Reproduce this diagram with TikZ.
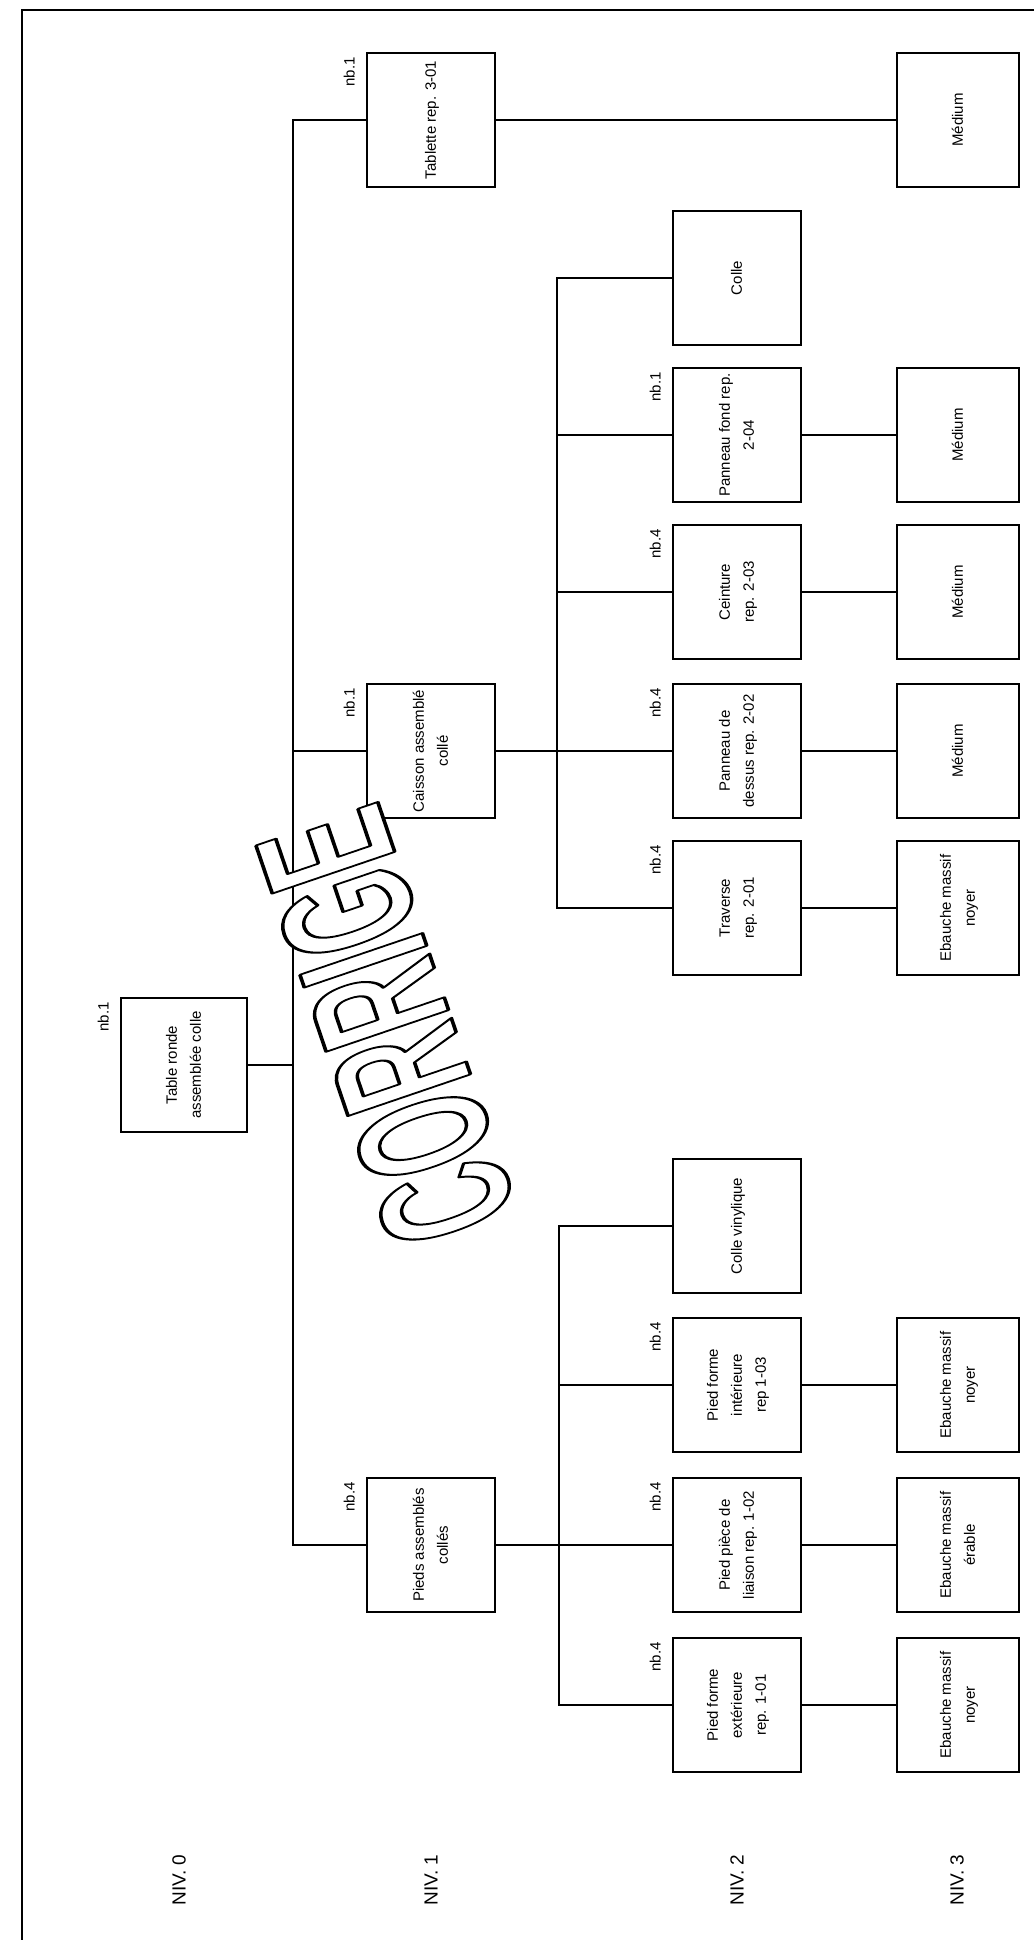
\documentclass[tikz,border=0pt]{standalone}
\usepackage{fontspec}
\setmainfont{Liberation Sans}
\usetikzlibrary{calc}
\newcommand\rtxt[1]{\rotatebox{90}{\begin{tabular}{@{}c@{}}#1\end{tabular}}}
\newcommand\outlinetext[1]{{\color{white}\special{pdf:literal direct 2 Tr 3.6 w 0 G 1 j}#1\special{pdf:literal direct 0 Tr 1 w 0 j}}}
\begin{document}
\begin{tikzpicture}[x=1pt,y=-1pt,
  box/.style={draw, line width=2pt, minimum width=128pt, minimum height=134pt, inner sep=0pt, font=\fontsize{15}{24}\selectfont},
  boxs/.style={box, minimum width=122pt},
  conn/.style={line width=1.3pt},
  nb/.style={rotate=90, anchor=south east, inner sep=0pt, font=\fontsize{15}{18}\selectfont},
  niv/.style={rotate=90, inner sep=0pt, font=\fontsize{19}{22}\selectfont},
  wm/.style={rotate=108.8, inner sep=0pt, font=\fontsize{188}{188}\selectfont\bfseries}]
\useasboundingbox (0,0) rectangle (1034,1940);
\fill[white] (0,0) rectangle (1034,1940);
% frame
\draw[line width=2.2pt] (1034,10) -- (22,10) -- (22,1940);
% level 0
\node[box, minimum width=126pt] (T0) at (184,1065) {\rtxt{Table ronde\\assemblée colle}};
% level 1
\node[box] (Tab) at (431,120) {\rtxt{Tablette rep. 3-01}};
\node[box] (Cai) at (431,751) {\rtxt{Caisson assemblé\\collé}};
\node[box] (Pie) at (431,1545) {\rtxt{Pieds assemblés\\collés}};
% level 2
\node[box] (Col) at (737,278) {\rtxt{Colle}};
\node[box] (PF) at (737,435) {\rtxt{Panneau fond rep.\\2-04}};
\node[box] (Cei) at (737,592) {\rtxt{Ceinture\\rep. 2-03}};
\node[box] (PD) at (737,751) {\rtxt{Panneau de\\dessus rep. 2-02}};
\node[box] (Tra) at (737,908) {\rtxt{Traverse\\rep. 2-01}};
\node[box] (CV) at (737,1226) {\rtxt{Colle vinylique}};
\node[box] (PFI) at (737,1385) {\rtxt{Pied forme\\intérieure\\rep 1-03}};
\node[box] (PPL) at (737,1545) {\rtxt{Pied pièce de\\liaison rep. 1-02}};
\node[box] (PFE) at (737,1705) {\rtxt{Pied forme\\extérieure\\rep. 1-01}};
% level 3
\node[boxs] (M1) at (958,120) {\rtxt{Médium}};
\node[boxs] (M2) at (958,435) {\rtxt{Médium}};
\node[boxs] (M3) at (958,592) {\rtxt{Médium}};
\node[boxs] (M4) at (958,751) {\rtxt{Médium}};
\node[boxs] (E1) at (958,908) {\rtxt{Ebauche massif\\noyer}};
\node[boxs] (E2) at (958,1385) {\rtxt{Ebauche massif\\noyer}};
\node[boxs] (E3) at (958,1545) {\rtxt{Ebauche massif\\érable}};
\node[boxs] (E4) at (958,1705) {\rtxt{Ebauche massif\\noyer}};
% trunks
\coordinate (mt) at (293,0);
\coordinate (ca) at (557,0);
\coordinate (pa) at (559,0);
\draw[conn] (Tab.west) -- (Tab.west -| mt) -- (Pie.west -| mt) -- (Pie.west);
\draw[conn] (Cai.west) -- (Cai.west -| mt);
\draw[conn] (T0.east) -- (T0.east -| mt);
\draw[conn] (Tab.east) -- (M1.west);
\draw[conn] (Col.west) -- (Col.west -| ca) -- (Tra.west -| ca) -- (Tra.west);
\draw[conn] (PF.west) -- (PF.west -| ca);
\draw[conn] (Cei.west) -- (Cei.west -| ca);
\draw[conn] (Cai.east) -- (PD.west);
\draw[conn] (PF.east) -- (M2.west);
\draw[conn] (Cei.east) -- (M3.west);
\draw[conn] (PD.east) -- (M4.west);
\draw[conn] (Tra.east) -- (E1.west);
\draw[conn] (CV.west) -- (CV.west -| pa) -- (PFE.west -| pa) -- (PFE.west);
\draw[conn] (PFI.west) -- (PFI.west -| pa);
\draw[conn] (Pie.east) -- (PPL.west);
\draw[conn] (PFI.east) -- (E2.west);
\draw[conn] (PPL.east) -- (E3.west);
\draw[conn] (PFE.east) -- (E4.west);
% nb labels
\node[nb] (n1) at ($(T0.north west)+(-11,5)$) {nb.1};
\node[nb] (n2) at ($(Tab.north west)+(-11,5)$) {nb.1};
\node[nb] (n3) at ($(Cai.north west)+(-11,5)$) {nb.1};
\node[nb] (n4) at ($(Pie.north west)+(-11,5)$) {nb.4};
\node[nb] (n5) at ($(PF.north west)+(-11,5)$) {nb.1};
\node[nb] (n6) at ($(Cei.north west)+(-11,5)$) {nb.4};
\node[nb] (n7) at ($(PD.north west)+(-11,5)$) {nb.4};
\node[nb] (n8) at ($(Tra.north west)+(-11,5)$) {nb.4};
\node[nb] (n9) at ($(PFI.north west)+(-11,5)$) {nb.4};
\node[nb] (n10) at ($(PPL.north west)+(-11,5)$) {nb.4};
\node[nb] (n11) at ($(PFE.north west)+(-11,5)$) {nb.4};
% level labels
\node[niv] (v0) at (179,1880) {NIV. 0};
\node[niv] (v1) at (431,1880) {NIV. 1};
\node[niv] (v2) at (737,1880) {NIV. 2};
\node[niv] (v3) at (957,1880) {NIV. 3};
% watermark
\node[wm] (wmi) at (386,1027) {\scalebox{0.5}[1]{\outlinetext{CORRIGE}}};
\end{tikzpicture}
\end{document}
